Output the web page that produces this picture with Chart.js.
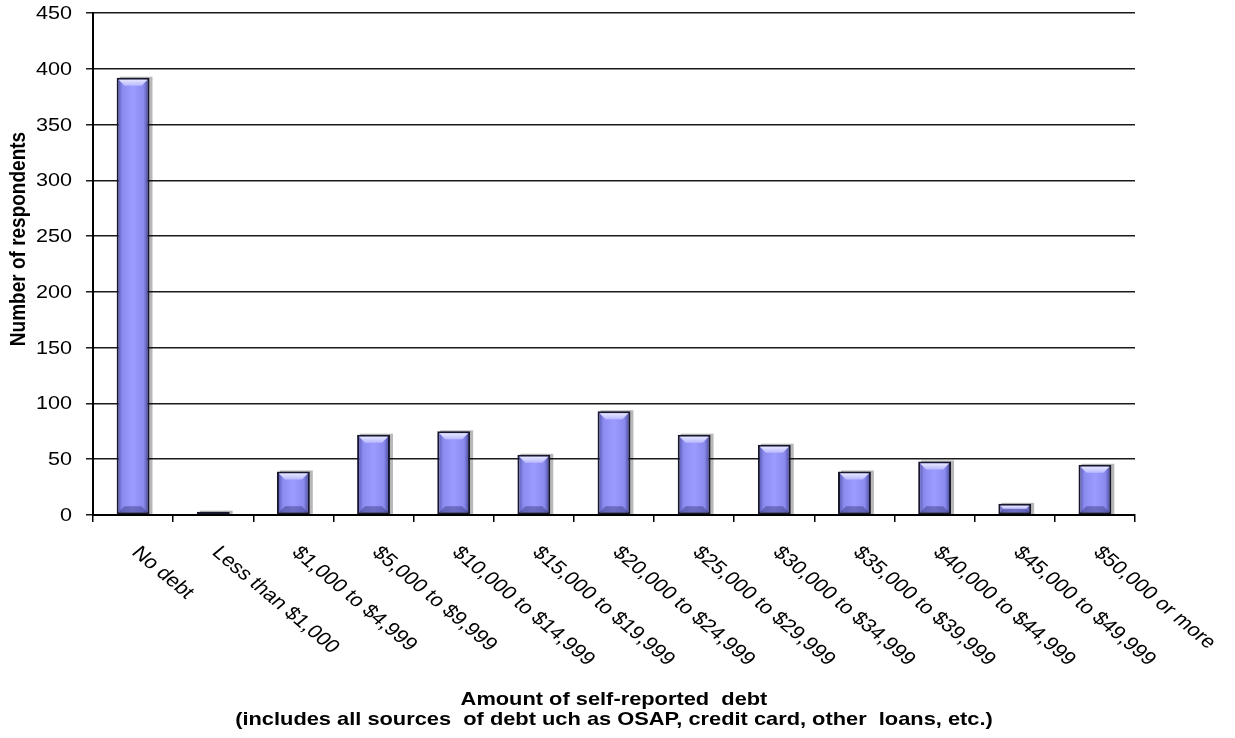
<!DOCTYPE html>
<html>
<head>
<meta charset="utf-8">
<script src="https://cdn.jsdelivr.net/npm/chart.js@4.4.1/dist/chart.umd.min.js"></script>
<style>
  html, body { margin: 0; padding: 0; background: #ffffff; }
  #wrap { width: 1235px; height: 738px; }
</style>
</head>
<body>
<div id="wrap"><canvas id="c" width="1235" height="738"></canvas></div>
<script>
const categories = [
  'No debt', 'Less than $1,000', '$1,000 to $4,999', '$5,000 to $9,999',
  '$10,000 to $14,999', '$15,000 to $19,999', '$20,000 to $24,999',
  '$25,000 to $29,999', '$30,000 to $34,999', '$35,000 to $39,999',
  '$40,000 to $44,999', '$45,000 to $49,999', '$50,000 or more'
];
const respondents = [392, 3, 39, 72, 75, 54, 93, 72, 63, 39, 48, 10, 45];
const yTickValues = [0, 50, 100, 150, 200, 250, 300, 350, 400, 450];
const yTitle = 'Number of respondents';
const xTitleLines = [
  'Amount of self-reported  debt',
  '(includes all sources  of debt uch as OSAP, credit card, other  loans, etc.)'
];

const FONT = '"Liberation Sans", Arial, sans-serif';
const SX = 1.2; // horizontal stretch of the original rendering

const barStyle = {
  id: 'barStyle',
  beforeDatasetsDraw(chart) {
    const ctx = chart.ctx;
    const meta = chart.getDatasetMeta(0);
    ctx.save();
    meta.data.forEach(bar => {
      const p = bar.getProps(['x', 'y', 'base', 'width'], true);
      const l = p.x - p.width / 2, r = p.x + p.width / 2;
      // shadow
      ctx.fillStyle = 'rgba(0,0,0,0.28)';
      ctx.fillRect(l + 3, p.y - 1, p.width, p.base - p.y + 1);
      const g = ctx.createLinearGradient(l, 0, r, 0);
      g.addColorStop(0, '#4c4ca6');
      g.addColorStop(0.18, '#8c8cf0');
      g.addColorStop(0.5, '#9c9cff');
      g.addColorStop(0.82, '#8a8aee');
      g.addColorStop(1, '#3c3c8a');
      bar.options = Object.assign({}, bar.options, { backgroundColor: g });
    });
    ctx.restore();
  },
  afterDatasetsDraw(chart) {
    const ctx = chart.ctx;
    const meta = chart.getDatasetMeta(0);
    ctx.save();
    meta.data.forEach(bar => {
      const p = bar.getProps(['x', 'y', 'base', 'width'], true);
      const h = p.base - p.y;
      if (h < 8) return;
      const l = p.x - p.width / 2 + 2, r = p.x + p.width / 2 - 2;
      const t = p.y + 2;
      const d = Math.min(6, h / 3);
      ctx.beginPath();
      ctx.moveTo(l, t); ctx.lineTo(r, t);
      ctx.lineTo(r - d, t + d); ctx.lineTo(l + d, t + d);
      ctx.closePath();
      const g = ctx.createLinearGradient(0, t, 0, t + d);
      g.addColorStop(0, '#e6e6ff');
      g.addColorStop(1, '#b8b8ff');
      ctx.fillStyle = g;
      ctx.fill();
      // bottom bevel
      const b = p.base - 2;
      ctx.beginPath();
      ctx.moveTo(l, b); ctx.lineTo(r, b);
      ctx.lineTo(r - d, b - d); ctx.lineTo(l + d, b - d);
      ctx.closePath();
      ctx.fillStyle = 'rgba(40,40,110,0.4)';
      ctx.fill();
    });
    ctx.restore();
  }
};

const texts = {
  id: 'texts',
  afterDraw(chart) {
    const ctx = chart.ctx;
    const xs = chart.scales.x, ys = chart.scales.y;
    const area = chart.chartArea;
    ctx.save();
    ctx.fillStyle = '#000';
    // y tick labels
    ctx.font = '18px ' + FONT;
    ctx.textAlign = 'right';
    ctx.textBaseline = 'middle';
    yTickValues.forEach(v => {
      const y = ys.getPixelForValue(v);
      ctx.save();
      ctx.translate(area.left - 21, y + 1);
      ctx.scale(SX, 1);
      ctx.fillText(String(v), 0, 0);
      ctx.restore();
    });
    // y title
    ctx.save();
    ctx.font = 'bold 19px ' + FONT;
    ctx.textAlign = 'center';
    ctx.textBaseline = 'middle';
    ctx.translate(19, 239);
    ctx.scale(SX, 1);
    ctx.rotate(-Math.PI / 2);
    ctx.fillText(yTitle, 0, 0);
    ctx.restore();
    // x category labels
    ctx.font = '18.5px ' + FONT;
    ctx.textAlign = 'left';
    ctx.textBaseline = 'middle';
    categories.forEach((c, i) => {
      const x = xs.getPixelForValue(i);
      ctx.save();
      ctx.translate(x + 2, area.bottom + 35);
      ctx.scale(SX, 1);
      ctx.rotate(Math.PI / 4);
      ctx.fillText(c, 0, 0);
      ctx.restore();
    });
    // x title
    ctx.font = 'bold 18.2px ' + FONT;
    ctx.textAlign = 'center';
    ctx.textBaseline = 'middle';
    const cx = (area.left + area.right) / 2;
    xTitleLines.forEach((line, i) => {
      ctx.save();
      ctx.translate(cx, 700 + i * 20);
      ctx.scale(SX, 1);
      ctx.fillText(line, 0, 0);
      ctx.restore();
    });
    ctx.restore();
  }
};

new Chart(document.getElementById('c'), {
  type: 'bar',
  data: {
    labels: categories,
    datasets: [{
      data: respondents,
      backgroundColor: () => '#9999ff',
      borderColor: '#16162c',
      borderWidth: 2,
      borderSkipped: false,
      categoryPercentage: 1,
      barPercentage: 0.41
    }]
  },
  options: {
    responsive: false,
    animation: false,
    devicePixelRatio: 1,
    layout: { padding: { left: 86, right: 100, top: 13, bottom: 216 } },
    plugins: { legend: { display: false }, tooltip: { enabled: false }, title: { display: false } },
    scales: {
      x: {
        offset: true,
        ticks: { display: false },
        grid: { display: true, offset: true, drawOnChartArea: false, drawTicks: true, tickLength: 7, color: '#000', lineWidth: 1.5 },
        border: { display: true, color: '#000', width: 2 }
      },
      y: {
        min: 0, max: 450,
        ticks: { display: false, stepSize: 50 },
        grid: { color: '#1a1a1a', lineWidth: 1.5, drawTicks: true, tickLength: 7 },
        border: { display: true, color: '#000', width: 2 }
      }
    }
  },
  plugins: [barStyle, texts]
});
</script>
</body>
</html>
